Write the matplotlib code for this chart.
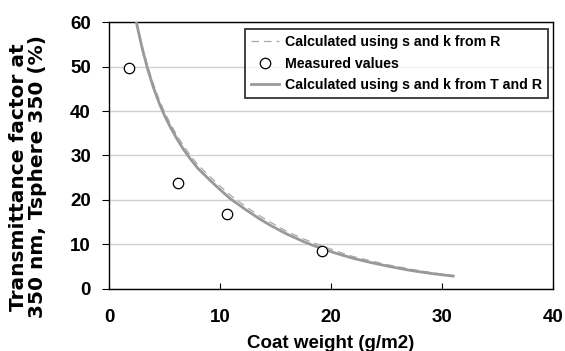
import numpy as np
import matplotlib
matplotlib.use("Agg")
import matplotlib.pyplot as plt

plt.rcParams['font.family'] = ['Liberation Sans', 'DejaVu Sans']
plt.rcParams['font.weight'] = 'bold'

# measured points
meas_x = [1.8, 6.2, 10.6, 19.2]
meas_y = [49.8, 23.9, 16.8, 8.5]

# curve, s and k from T and R (solid)
tr_x = [2.25, 2.4, 2.55, 3.0, 3.5, 4.0, 4.5, 5.0, 5.5, 6.15, 6.7, 7.3, 8.0, 9.1, 10.0, 10.9,
        12.3, 13.5, 14.5, 16.0, 17.5, 18.3, 19.2, 20.5, 22.0, 23.5, 25.0, 27.1, 29.0, 31.0]
tr_y = [62.7, 60.8, 59.0, 54.0, 49.3, 45.3, 41.9, 39.0, 36.5, 33.6, 31.4, 29.3, 27.1, 24.4, 22.3, 20.3,
        17.8, 15.8, 14.3, 12.3, 10.6, 9.8, 9.0, 7.9, 6.8, 5.9, 5.1, 4.1, 3.4, 2.8]

# s and k from R only (dashed), sits a hair above the solid one
r_x = tr_x
r_y = [63.2, 61.3, 59.5, 54.6, 50.0, 46.1, 42.7, 39.8, 37.3, 34.4, 32.2, 30.1, 27.9, 25.2, 23.1, 21.1,
       18.5, 16.5, 15.0, 12.9, 11.2, 10.4, 9.6, 8.4, 7.2, 6.3, 5.4, 4.4, 3.6, 2.9]

fig = plt.figure(figsize=(5.65, 3.51), dpi=100)
ax = fig.add_axes([0.193, 0.178, 0.786, 0.758])

ax.plot(r_x, r_y, color="#a8a8a8", lw=0.9, ls=(0, (6, 4)), label="Calculated using s and k from R", zorder=3)
ax.plot(meas_x, meas_y, ls="none", marker="o", ms=7.5, mfc="white", mec="black", mew=0.9,
        label="Measured values", zorder=5)
ax.plot(tr_x, tr_y, color="#999999", lw=2.0, label="Calculated using s and k from T and R", zorder=4)

ax.set_xlim(0, 40)
ax.set_ylim(0, 60)
ax.set_xticks([0, 10, 20, 30, 40])
ax.set_yticks([0, 10, 20, 30, 40, 50, 60])
ax.yaxis.grid(True, color="#d0d0d0", lw=1.0)
ax.set_axisbelow(True)
for s in ax.spines.values():
    s.set_linewidth(1.0)
    s.set_color("black")
ax.tick_params(axis='x', direction='in', length=4, labelsize=13.5, pad=15)
ax.tick_params(axis='y', direction='out', length=5, labelsize=13.5, pad=8)

ax.set_xlabel("Coat weight (g/m2)", fontsize=13.5, fontweight='bold', labelpad=6)
# wider face so the long label fills the height like the original
ax.set_ylabel("Transmittance factor at\n350 nm, Tsphere 350 (%)", fontsize=14.5, fontweight='bold',
              family='DejaVu Sans', linespacing=1.0)
ax.yaxis.set_label_coords(-0.14, 0.42)

leg = ax.legend(loc="upper right", bbox_to_anchor=(0.988, 0.975), fontsize=10.2, frameon=True,
                fancybox=False, handlelength=2.0, handletextpad=0.4, borderpad=0.4, labelspacing=0.55,
                borderaxespad=0)
leg.get_frame().set_edgecolor("black")
leg.get_frame().set_linewidth(1.3)
for t in leg.get_texts():
    t.set_fontweight('bold')

fig.savefig("out.png", dpi=100)
